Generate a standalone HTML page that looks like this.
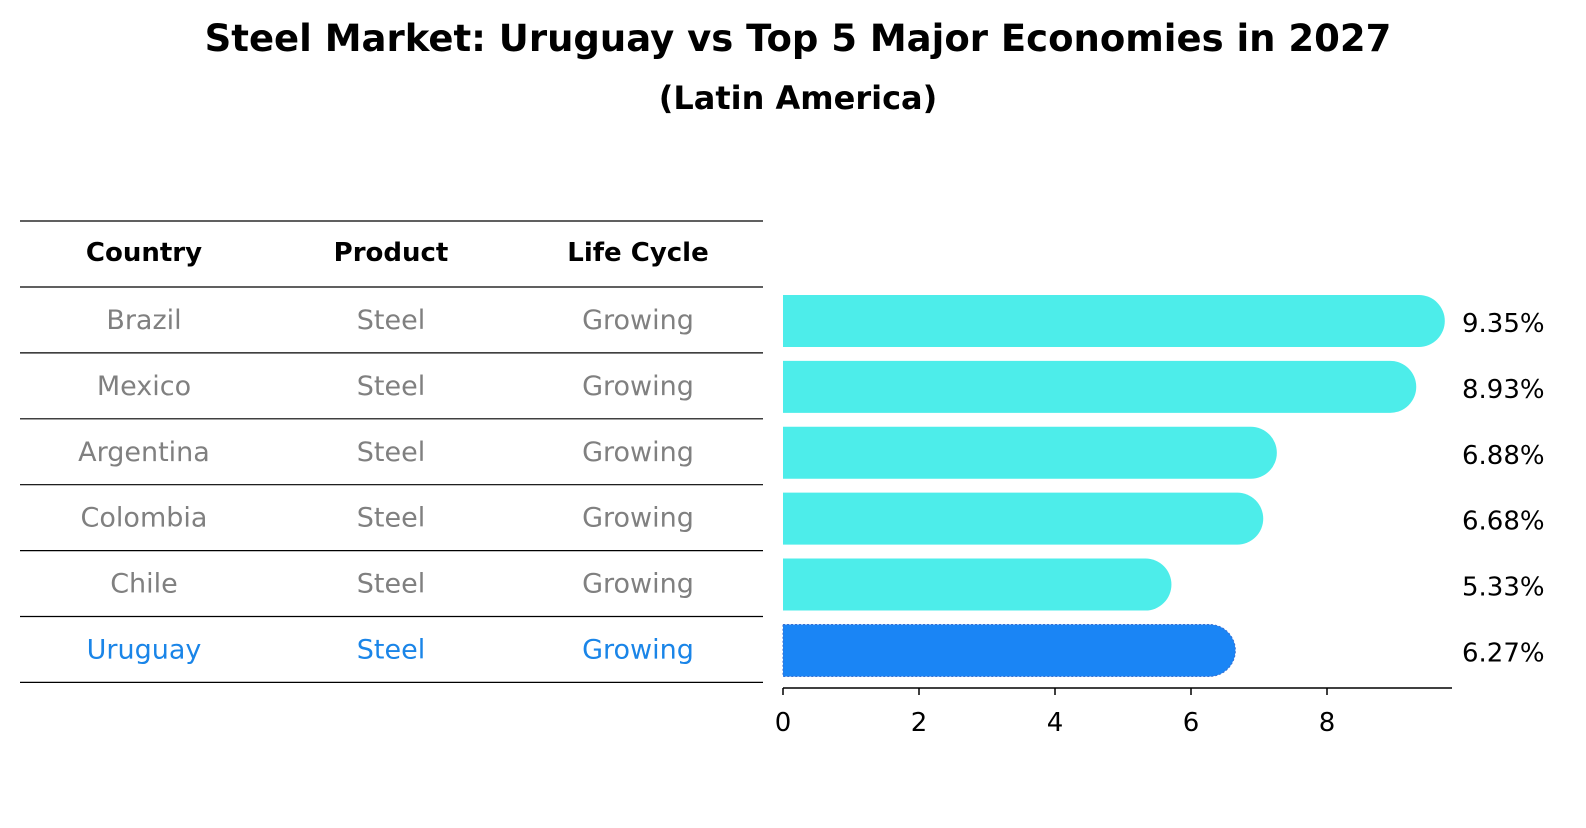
<!DOCTYPE html>
<html><head><meta charset="utf-8"><style>
body{margin:0;background:#fff;font-family:"Liberation Sans","DejaVu Sans",sans-serif;}
svg text{font-family:"DejaVu Sans","Liberation Sans",sans-serif;}
</style></head><body>
<svg id="c" width="1586" height="823" xmlns="http://www.w3.org/2000/svg">
<text x="798" y="51" text-anchor="middle" font-size="37" font-weight="bold">Steel Market: Uruguay vs Top 5 Major Economies in 2027</text>
<text x="798" y="109" text-anchor="middle" font-size="32" font-weight="bold">(Latin America)</text>
<g id="table"></g>
<g id="bars"></g>
<g id="axis"></g>
</svg>
<script>
const countries=["Brazil","Mexico","Argentina","Colombia","Chile","Uruguay"];
const values=[9.35,8.93,6.88,6.68,5.33,6.27];
const valueLabels=["9.35%","8.93%","6.88%","6.68%","5.33%","6.27%"];
const ticks=[0,2,4,6,8];
const NS="http://www.w3.org/2000/svg";
function mk(t,a,p){const e=document.createElementNS(NS,t);for(const k in a)e.setAttribute(k,a[k]);p.appendChild(e);return e;}
const x0=783,pxPer=68,rowTop=287,rowH=65.9,barH=52;
const xs=v=>x0+v*pxPer;
const yc=i=>rowTop+rowH*i+rowH/2;
const tbl=document.getElementById('table');
const lineYs=[221,287];
for(let i=1;i<=countries.length;i++)lineYs.push(rowTop+rowH*i);
lineYs.forEach((y,i)=>{const l=mk('line',{x1:20,x2:763,y1:y,y2:y,stroke:'#000','stroke-width':1.2},tbl);

});
const cols=[144,391,638];
["Country","Product","Life Cycle"].forEach((h,j)=>{const t=mk('text',{x:cols[j],y:261,'text-anchor':'middle','font-size':26,'font-weight':'bold'},tbl);t.textContent=h;

});
countries.forEach((c,i)=>{const col=c==="Uruguay"?"#1a85e8":"#808080";
[c,"Steel","Growing"].forEach((s,j)=>{const t=mk('text',{x:cols[j],y:yc(i)+9,'text-anchor':'middle','font-size':27,fill:col},tbl);t.textContent=s;

});});
const bars=document.getElementById('bars');
values.forEach((v,i)=>{const u=countries[i]==="Uruguay";const col=u?"#1a85f5":"#4dedea";
const y=yc(i)-barH/2+1,xe=xs(v),r=barH/2;
const p=mk('path',{d:`M${x0},${y}H${xe}A${r},${r} 0 0 1 ${xe},${y+barH}H${x0}Z`,fill:col},bars);
if(u){p.setAttribute('stroke','#3a6fd0');p.setAttribute('stroke-dasharray','2,2');}


const t=mk('text',{x:1462,y:yc(i)+12,'font-size':26},bars);t.textContent=valueLabels[i];

});
const ax=document.getElementById('axis');
mk('line',{x1:x0,x2:1452,y1:688,y2:688,stroke:'#000','stroke-width':1.5},ax);
ticks.forEach(v=>{mk('line',{x1:xs(v),x2:xs(v),y1:688,y2:695,stroke:'#000','stroke-width':1.5},ax);
const t=mk('text',{x:xs(v),y:731,'text-anchor':'middle','font-size':26},ax);t.textContent=v;

});
</script>
</body></html>
